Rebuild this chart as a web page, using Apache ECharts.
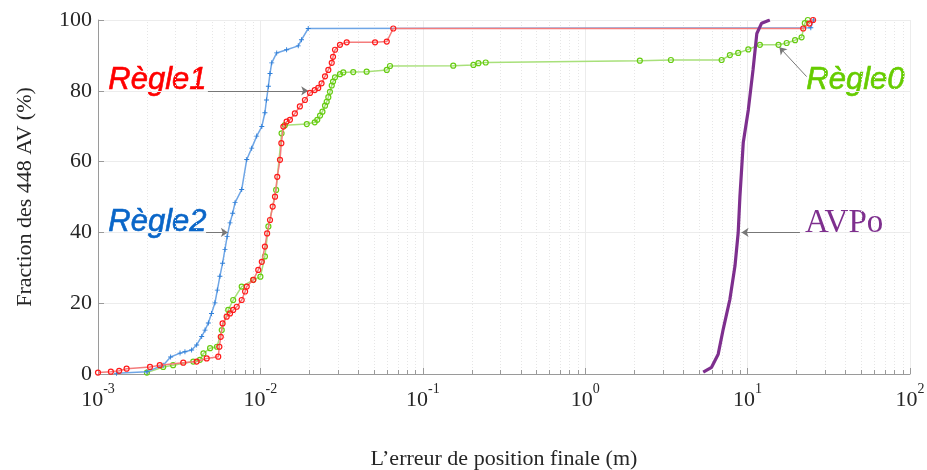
<!DOCTYPE html>
<html><head><meta charset="utf-8">
<script src="https://cdn.jsdelivr.net/npm/echarts@6/dist/echarts.min.js"></script>
<style>html,body{margin:0;padding:0;background:#fff}#c{width:927px;height:470px}</style>
</head><body><div id="c"></div>
<script>
// ---- data (x: final position error in m, y: fraction in %) ----
var r2X = [0.0013, 0.002, 0.00252, 0.0028, 0.0032, 0.00343, 0.00377, 0.00405, 0.00435, 0.00456, 0.00478, 0.005, 0.00525, 0.00543, 0.00563, 0.00585, 0.00605, 0.00624, 0.0065, 0.00675, 0.00698, 0.00767, 0.00824, 0.00884, 0.00949, 0.0102, 0.01066, 0.0109, 0.0112, 0.01146, 0.01174, 0.0126, 0.0145, 0.0171, 0.0179, 0.0197, 24.5, 25.5];
var r2Y = [0.2, 0.65, 2.5, 4.8, 5.9, 6.3, 6.8, 8.2, 10.6, 12.4, 14.4, 17.1, 20.1, 23.7, 27.6, 31.3, 35.2, 38.8, 42.7, 45.4, 48.4, 52.1, 60.6, 63.8, 67.2, 69.9, 73.8, 77.4, 81.3, 84.9, 87.9, 90.7, 91.6, 92.7, 94.4, 97.6, 97.8, 100];

var r1X = [0.001, 0.0012, 0.00135, 0.0015, 0.00209, 0.0024, 0.00335, 0.00405, 0.00467, 0.0055, 0.00559, 0.0057, 0.00585, 0.0062, 0.0065, 0.0068, 0.00715, 0.00767, 0.00805, 0.00824, 0.00904, 0.0097, 0.0102, 0.01066, 0.011, 0.01146, 0.0119, 0.0123, 0.0127, 0.0132, 0.01346, 0.01385, 0.0145, 0.0152, 0.0163, 0.0175, 0.0188, 0.0202, 0.0216, 0.0227, 0.0238, 0.025, 0.0262, 0.0275, 0.028, 0.0288, 0.0309, 0.034, 0.0508, 0.06, 0.0658, 22, 24, 25.3];
var r1Y = [0.4, 0.65, 0.9, 1.5, 2.0, 2.5, 3.2, 3.5, 4.4, 4.9, 7.7, 10.5, 14.3, 16.2, 17.1, 18.1, 19.0, 20.9, 23.3, 24.7, 26.6, 29.4, 31.7, 36.0, 39.7, 43.5, 47.3, 50.1, 55.7, 60.5, 65.2, 69.9, 71.3, 71.8, 73.6, 75.6, 77.4, 79.4, 80.2, 80.8, 82.1, 84.1, 85.9, 87.9, 89.6, 91.6, 93.0, 93.7, 93.7, 93.9, 97.6, 97.6, 99, 100];

var r0X = [0.002, 0.00252, 0.0029, 0.00386, 0.00424, 0.00446, 0.0049, 0.0054, 0.00578, 0.00634, 0.0068, 0.00767, 0.00904, 0.01, 0.01066, 0.0112, 0.0125, 0.0135, 0.01415, 0.0193, 0.0216, 0.0224, 0.0233, 0.0241, 0.025, 0.0256, 0.0262, 0.0268, 0.0275, 0.028, 0.0288, 0.0309, 0.0324, 0.0373, 0.0451, 0.06, 0.0628, 0.154, 0.205, 0.22, 0.244, 2.17, 3.37, 6.92, 7.78, 8.75, 10.1, 11.9, 15.5, 17.4, 19.6, 21.5, 22.5, 23.5];
var r0Y = [0.4, 2.0, 2.5, 3.5, 4.0, 5.8, 7.3, 7.7, 12.4, 18.1, 20.9, 24.7, 26.6, 27.5, 33.2, 41.7, 52, 68, 70.3, 70.6, 71.1, 71.8, 73.0, 74.1, 75.8, 76.9, 78.2, 79.7, 81.5, 82.6, 83.8, 84.7, 85.2, 85.3, 85.4, 85.9, 87.0, 87.1, 87.3, 87.8, 88.0, 88.5, 88.7, 88.7, 90.1, 90.7, 91.7, 93.0, 93.0, 93.5, 94.3, 95.1, 99.1, 100];

var avpX = [5.33, 6.0, 6.59, 7.08, 7.78, 8.36, 8.75, 8.97, 9.18, 9.4, 10.1, 10.8, 11.4, 12.2, 13.7];
var avpY = [0.5, 1.9, 5.6, 12.7, 21.1, 30.5, 39.9, 50.2, 57.6, 65.3, 74.6, 85.9, 96.2, 99.1, 100];

var yTicks = [0, 20, 40, 60, 80, 100];
var xDecades = [0.001, 0.01, 0.1, 1, 10, 100];

// annotation arrows (data coords): [from, to]
var arrR1 = [[0.00475, 80], [0.0197, 80]];
var arrR2 = [[0.00463, 40], [0.00631, 40]];
var arrR0 = [[23.1, 84.0], [15.7, 92.3]];
var arrAV = [[21.0, 40], [9.18, 40]];

function zip(a, b) { return a.map(function (v, i) { return [v, b[i]]; }); }

var minorVals = [];
for (var d = 0; d < xDecades.length - 1; d++) {
  for (var k = 2; k <= 9; k++) minorVals.push([+(k * xDecades[d]).toPrecision(3), 0]);
}

var SERIF = '"Liberation Serif", "DejaVu Serif", serif';
var SANS = '"Liberation Sans", Arial, sans-serif';
var plusSym = 'path://M-1,-0.18H1V0.18H-1Z M-0.18,-1H0.18V1H-0.18Z';

function arrow(pair) {
  return {
    silent: true, symbol: ['none', 'arrow'], symbolSize: 7, animation: false,
    lineStyle: { color: '#777', width: 1, type: 'solid' },
    label: { show: false },
    data: [[{ coord: pair[0] }, { coord: pair[1] }]]
  };
}

var chart = echarts.init(document.getElementById('c'));
chart.setOption({
  animation: false,
  backgroundColor: '#fff',
  grid: { left: 98, right: 17, top: 20, bottom: 96, containLabel: false, outerBoundsMode: 'none' },
  xAxis: {
    type: 'log', logBase: 10, min: 0.001, max: 100,
    name: 'L\u2019erreur de position finale (m)', nameLocation: 'middle', nameGap: 74,
    nameTextStyle: { fontFamily: SERIF, fontSize: 22, color: '#262626' },
    axisLine: { lineStyle: { color: '#9a9a9a', width: 1 } },
    axisTick: { inside: true, length: 6, lineStyle: { color: '#9a9a9a' } },
    splitLine: { show: true, lineStyle: { color: '#ececec', width: 1 } },
    axisLabel: {
      margin: 8, color: '#262626',
      formatter: function (v) { var e = Math.round(Math.log10(v)); return '{b|10}{s|' + e + '}'; },
      rich: {
        b: { fontFamily: SERIF, fontSize: 22, color: '#262626' },
        s: { fontFamily: SERIF, fontSize: 14, color: '#262626', padding: [0, 0, 22, 0] }
      }
    }
  },
  yAxis: {
    type: 'value', min: 0, max: 100, interval: 20,
    name: 'Fraction des 448 AV (%)', nameLocation: 'middle', nameGap: 62,
    nameTextStyle: { fontFamily: SERIF, fontSize: 22, color: '#262626' },
    axisLine: { show: true, lineStyle: { color: '#9a9a9a', width: 1 } },
    axisTick: { show: true, inside: true, length: 6, lineStyle: { color: '#9a9a9a' } },
    splitLine: { show: true, lineStyle: { color: '#ececec', width: 1 } },
    axisLabel: { margin: 6, fontFamily: SERIF, fontSize: 22, color: '#262626' }
  },
  series: [
    {
      type: 'custom', silent: true, z: 1, data: minorVals,
      renderItem: function (params, api) {
        var v = api.value(0);
        var p0 = api.coord([v, 0]);
        var p1 = api.coord([v, 100]);
        var x = Math.round(p0[0]) + 0.5;
        return { type: 'group', children: [
          { type: 'line', shape: { x1: x, y1: p0[1], x2: x, y2: p1[1] }, style: { stroke: '#e6e6e6', lineWidth: 1, lineDash: [1, 2] } },
          { type: 'line', shape: { x1: x, y1: p0[1], x2: x, y2: p0[1] - 4 }, style: { stroke: '#9a9a9a', lineWidth: 1 } }
        ] };
      }
    },
    {
      name: 'Règle0', type: 'line', z: 3, data: zip(r0X, r0Y),
      symbol: 'circle', symbolSize: 5,
      lineStyle: { color: '#a8e07a', width: 1.5 },
      itemStyle: { color: 'rgba(0,0,0,0)', borderColor: '#66cc11', borderWidth: 1.2 },
      markLine: arrow(arrR0)
    },
    {
      name: 'Règle2', type: 'line', z: 4, data: zip(r2X, r2Y),
      symbol: plusSym, symbolSize: 5,
      lineStyle: { color: '#6fa6e6', width: 1.5 },
      itemStyle: { color: '#2f7fd8' },
      markLine: arrow(arrR2)
    },
    {
      name: 'Règle1', type: 'line', z: 5, data: zip(r1X, r1Y),
      symbol: 'circle', symbolSize: 5,
      lineStyle: { color: '#f47c7c', width: 1.5 },
      itemStyle: { color: 'rgba(0,0,0,0)', borderColor: '#ff1a1a', borderWidth: 1.2 },
      markLine: arrow(arrR1)
    },
    {
      name: 'AVPo', type: 'line', z: 6, data: zip(avpX, avpY),
      showSymbol: false, symbol: 'none',
      lineStyle: { color: '#7e2f8e', width: 3.2 },
      markLine: arrow(arrAV)
    }
  ],
  graphic: [
    { type: 'text', left: 108, top: 65, style: { text: 'Règle1', fill: '#ff0000', stroke: '#ff0000', lineWidth: 0.6, font: 'italic 31px ' + SANS } },
    { type: 'text', left: 108, top: 207, style: { text: 'Règle2', fill: '#0a66c8', stroke: '#0a66c8', lineWidth: 0.6, font: 'italic 31px ' + SANS } },
    { type: 'text', left: 806, top: 65, style: { text: 'Règle0', fill: '#66cc00', stroke: '#66cc00', lineWidth: 0.6, font: 'italic 31px ' + SANS } },
    { type: 'text', left: 805, top: 207, style: { text: 'AVPo', fill: '#7e2f8e', font: '33px ' + SERIF } }
  ]
});
</script></body></html>
